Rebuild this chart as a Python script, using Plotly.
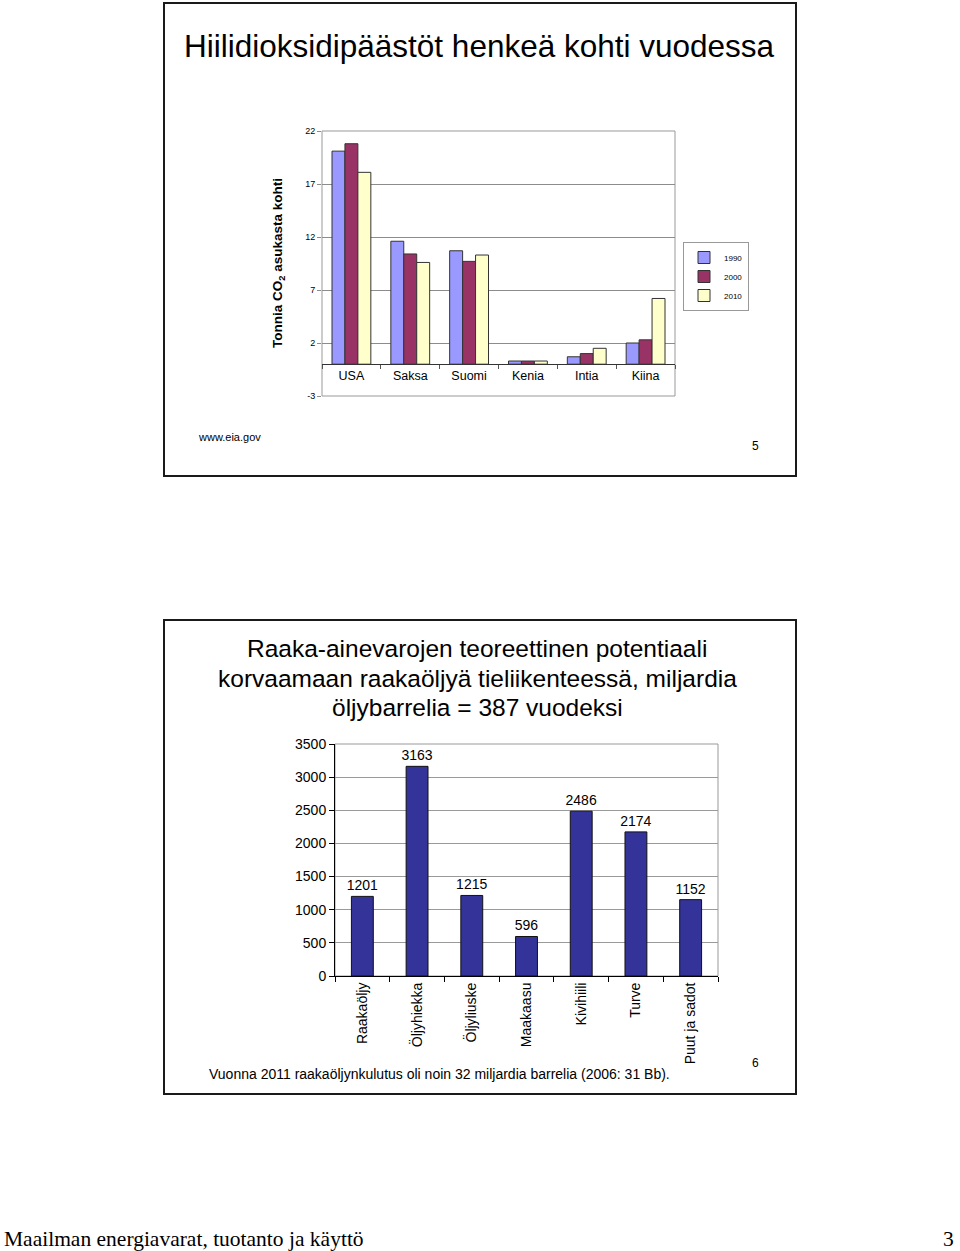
import plotly.graph_objects as go

W, H = 960, 1251

# ---- data: chart 1 (CO2 per capita) ----
countries = ["USA", "Saksa", "Suomi", "Kenia", "Intia", "Kiina"]
years = ["1990", "2000", "2010"]
co2_1990 = [20.1, 11.6, 10.7, 0.3, 0.7, 2.0]
co2_2000 = [20.8, 10.4, 9.7, 0.3, 1.0, 2.3]
co2_2010 = [18.1, 9.6, 10.3, 0.3, 1.5, 6.2]
co2_ticks = [-3, 2, 7, 12, 17, 22]

# ---- data: chart 2 (raw material potential) ----
sources = ["Raakaöljy", "Öljyhiekka", "Öljyliuske", "Maakaasu", "Kivihiili", "Turve", "Puut ja sadot"]
potential = [1201, 3163, 1215, 596, 2486, 2174, 1152]

FONT = "Liberation Sans, Arial, sans-serif"
SERIF = "Liberation Serif, Times New Roman, serif"


def fx(x):
    return x / W


def fy(y):
    return 1 - y / H


fig = go.Figure()

colors = ["#9999FF", "#993366", "#FFFFCC"]
for yr, vals, col in zip(years, [co2_1990, co2_2000, co2_2010], colors):
    fig.add_trace(go.Bar(
        x=countries, y=vals, name=yr, xaxis="x", yaxis="y",
        marker=dict(color=col, line=dict(color="#333333", width=1)),
        showlegend=True,
    ))

fig.add_trace(go.Bar(
    x=sources, y=potential, xaxis="x2", yaxis="y2", width=0.4,
    marker=dict(color="#333399", line=dict(color="#111111", width=1)),
    texttemplate="%{y}", textposition="outside", constraintext="none",
    textfont=dict(family=FONT, size=14, color="#000"),
    cliponaxis=False, showlegend=False,
))

y1_dom = [fy(396), fy(131)]
y1_rng = [-3, 22]
zero_pos = y1_dom[0] + (0 - y1_rng[0]) / (y1_rng[1] - y1_rng[0]) * (y1_dom[1] - y1_dom[0])

fig.update_layout(
    width=W, height=H,
    margin=dict(l=0, r=0, t=0, b=0, pad=0, autoexpand=False),
    paper_bgcolor="white", plot_bgcolor="white",
    barmode="group", bargap=0.34, bargroupgap=0,
    font=dict(family=FONT, color="#000"),
    xaxis=dict(
        domain=[fx(322), fx(675)], anchor="free", position=zero_pos,
        showline=True, linecolor="#333333", linewidth=1,
        ticks="outside", tickson="boundaries", ticklen=4, tickcolor="#555",
        showgrid=False, tickfont=dict(family=FONT, size=12.5, color="#000"),
        automargin=False,
    ),
    yaxis=dict(
        domain=y1_dom, anchor="x", range=y1_rng,
        tickvals=co2_ticks, ticktext=[str(t) for t in co2_ticks],
        showgrid=True, gridcolor="#8c8c8c", gridwidth=1, zeroline=False,
        ticks="outside", ticklen=4, tickcolor="#8c8c8c", showline=False,
        tickfont=dict(family=FONT, size=9, color="#000"), automargin=False,
    ),
    xaxis2=dict(
        domain=[fx(335), fx(718)], anchor="y2",
        showline=True, linecolor="#000", linewidth=1,
        ticks="outside", tickson="boundaries", ticklen=5, tickcolor="#000",
        tickangle=-90, showgrid=False,
        tickfont=dict(family=FONT, size=14, color="#000"), automargin=False,
    ),
    yaxis2=dict(
        domain=[fy(976), fy(744)], anchor="x2", range=[0, 3500], dtick=500,
        showgrid=True, gridcolor="#9a9a9a", gridwidth=1, zeroline=False,
        showline=True, linecolor="#000", linewidth=1,
        ticks="outside", ticklen=5, tickcolor="#000",
        tickfont=dict(family=FONT, size=14, color="#000"), automargin=False,
    ),
    legend=dict(
        x=fx(683), y=fy(242), xanchor="left", yanchor="top",
        bordercolor="#999", borderwidth=1, bgcolor="white",
        font=dict(family=FONT, size=8, color="#000"),
        itemwidth=30, tracegroupgap=0,
    ),
)

shapes = [
    # slide frames
    dict(type="rect", xref="paper", yref="paper", x0=fx(164), x1=fx(796), y0=fy(476), y1=fy(3),
         line=dict(color="#1a1a1a", width=2), layer="below"),
    dict(type="rect", xref="paper", yref="paper", x0=fx(164), x1=fx(796), y0=fy(1094), y1=fy(620),
         line=dict(color="#1a1a1a", width=2), layer="below"),
    # plot area borders
    dict(type="rect", xref="x domain", yref="y domain", x0=0, x1=1, y0=0, y1=1,
         line=dict(color="#999", width=1), layer="below"),
    dict(type="rect", xref="x2 domain", yref="y2 domain", x0=0, x1=1, y0=0, y1=1,
         line=dict(color="#999", width=1), layer="below"),
]
fig.update_layout(shapes=shapes)

ann = []
ann.append(dict(text="Hiilidioksidipäästöt henkeä kohti vuodessa", x=fx(182), y=fy(46),
                xanchor="left", yanchor="middle", font=dict(family=FONT, size=31.5)))
ann.append(dict(text="<b>Tonnia CO<sub>2</sub> asukasta kohti</b>", x=fx(279), y=fy(263),
                textangle=-90, xanchor="center", yanchor="middle", font=dict(family=FONT, size=13.5)))
ann.append(dict(text="www.eia.gov", x=fx(196), y=fy(437), xanchor="left", yanchor="middle",
                font=dict(family=FONT, size=11)))
ann.append(dict(text="5", x=fx(755), y=fy(446), xanchor="center", yanchor="middle",
                font=dict(family=FONT, size=12)))
for t, yy in zip(["Raaka-ainevarojen teoreettinen potentiaali",
                  "korvaamaan raakaöljyä tieliikenteessä, miljardia",
                  "öljybarrelia = 387 vuodeksi"], [648.5, 678.5, 707.5]):
    ann.append(dict(text=t, x=fx(477), y=fy(yy), xanchor="center", yanchor="middle",
                    font=dict(family=FONT, size=24.5)))
ann.append(dict(text="Vuonna 2011 raakaöljynkulutus oli noin 32 miljardia barrelia (2006: 31 Bb).",
                x=fx(207), y=fy(1073.5), xanchor="left", yanchor="middle", font=dict(family=FONT, size=14)))
ann.append(dict(text="6", x=fx(755), y=fy(1063), xanchor="center", yanchor="middle",
                font=dict(family=FONT, size=12)))
ann.append(dict(text="Maailman energiavarat, tuotanto ja käyttö", x=fx(2), y=fy(1238.5),
                xanchor="left", yanchor="middle", font=dict(family=SERIF, size=21.5)))
ann.append(dict(text="3", x=fx(956), y=fy(1238.5), xanchor="right", yanchor="middle",
                font=dict(family=SERIF, size=21.5)))
for a in ann:
    a.update(xref="paper", yref="paper", showarrow=False)
fig.update_layout(annotations=ann)

fig.write_html(
    "out.html",
    config={"displayModeBar": False},
    post_script="document.body.style.margin='0';document.body.style.padding='0';"
                "document.documentElement.style.overflow='hidden';",
)
